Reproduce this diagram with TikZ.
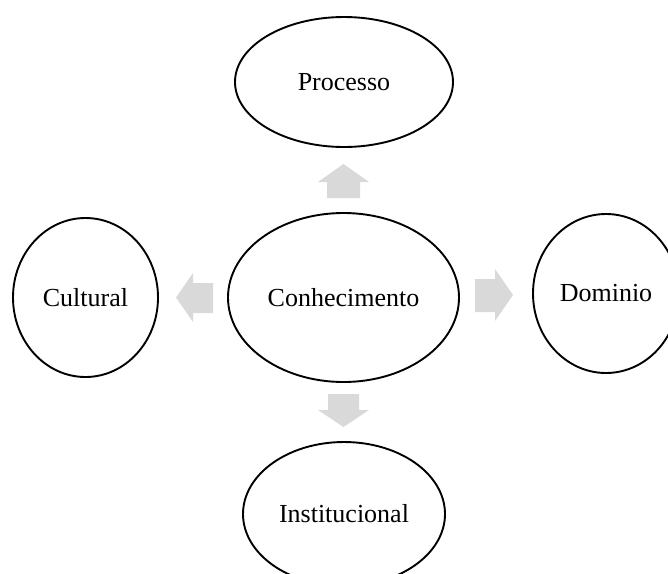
\documentclass[tikz,border=0pt]{standalone}
\usepackage{fontspec}
\setmainfont{Liberation Serif}
\usetikzlibrary{shapes.geometric}
\definecolor{arrowgray}{HTML}{D9D9D9}
\tikzset{
  bubble/.style={draw=black, line width=1.9pt, ellipse, inner sep=0pt,
    font=\fontsize{26}{30}\selectfont, text=black},
  blockarrow/.style={fill=arrowgray, draw=none}
}
\begin{document}
\begin{tikzpicture}[x=1pt,y=-1pt]
\useasboundingbox (0,0) rectangle (668,573);
\clip (0,0) rectangle (668,573);
\node[bubble, minimum width=231pt, minimum height=169pt] (C) at (343.5,297.5) {Conhecimento};
\node[bubble, minimum width=218pt, minimum height=130pt] (P) at (344,82) {Processo};
\node[bubble, minimum width=145pt, minimum height=159pt] (Cu) at (85.5,297.5) {Cultural};
\node[bubble, minimum width=146pt, minimum height=159pt] (D) at (606,293.5) {Dominio};
\node[bubble, minimum width=202pt, minimum height=144pt] (I) at (344,514) {Institucional};
% up arrow
\fill[blockarrow] (327,198) -- (327,182) -- (318,182) -- (343.5,164) -- (369,182) -- (360,182) -- (360,198) -- cycle;
% down arrow
\fill[blockarrow] (328,394) -- (328,410) -- (318,410) -- (343.5,427) -- (369,410) -- (359,410) -- (359,394) -- cycle;
% left arrow
\fill[blockarrow] (213,283) -- (193,283) -- (193,273) -- (176,297.5) -- (193,322) -- (193,313) -- (213,313) -- cycle;
% right arrow
\fill[blockarrow] (475,279) -- (495,279) -- (495,269) -- (513,295) -- (495,321) -- (495,312) -- (475,312) -- cycle;
\end{tikzpicture}
\end{document}
